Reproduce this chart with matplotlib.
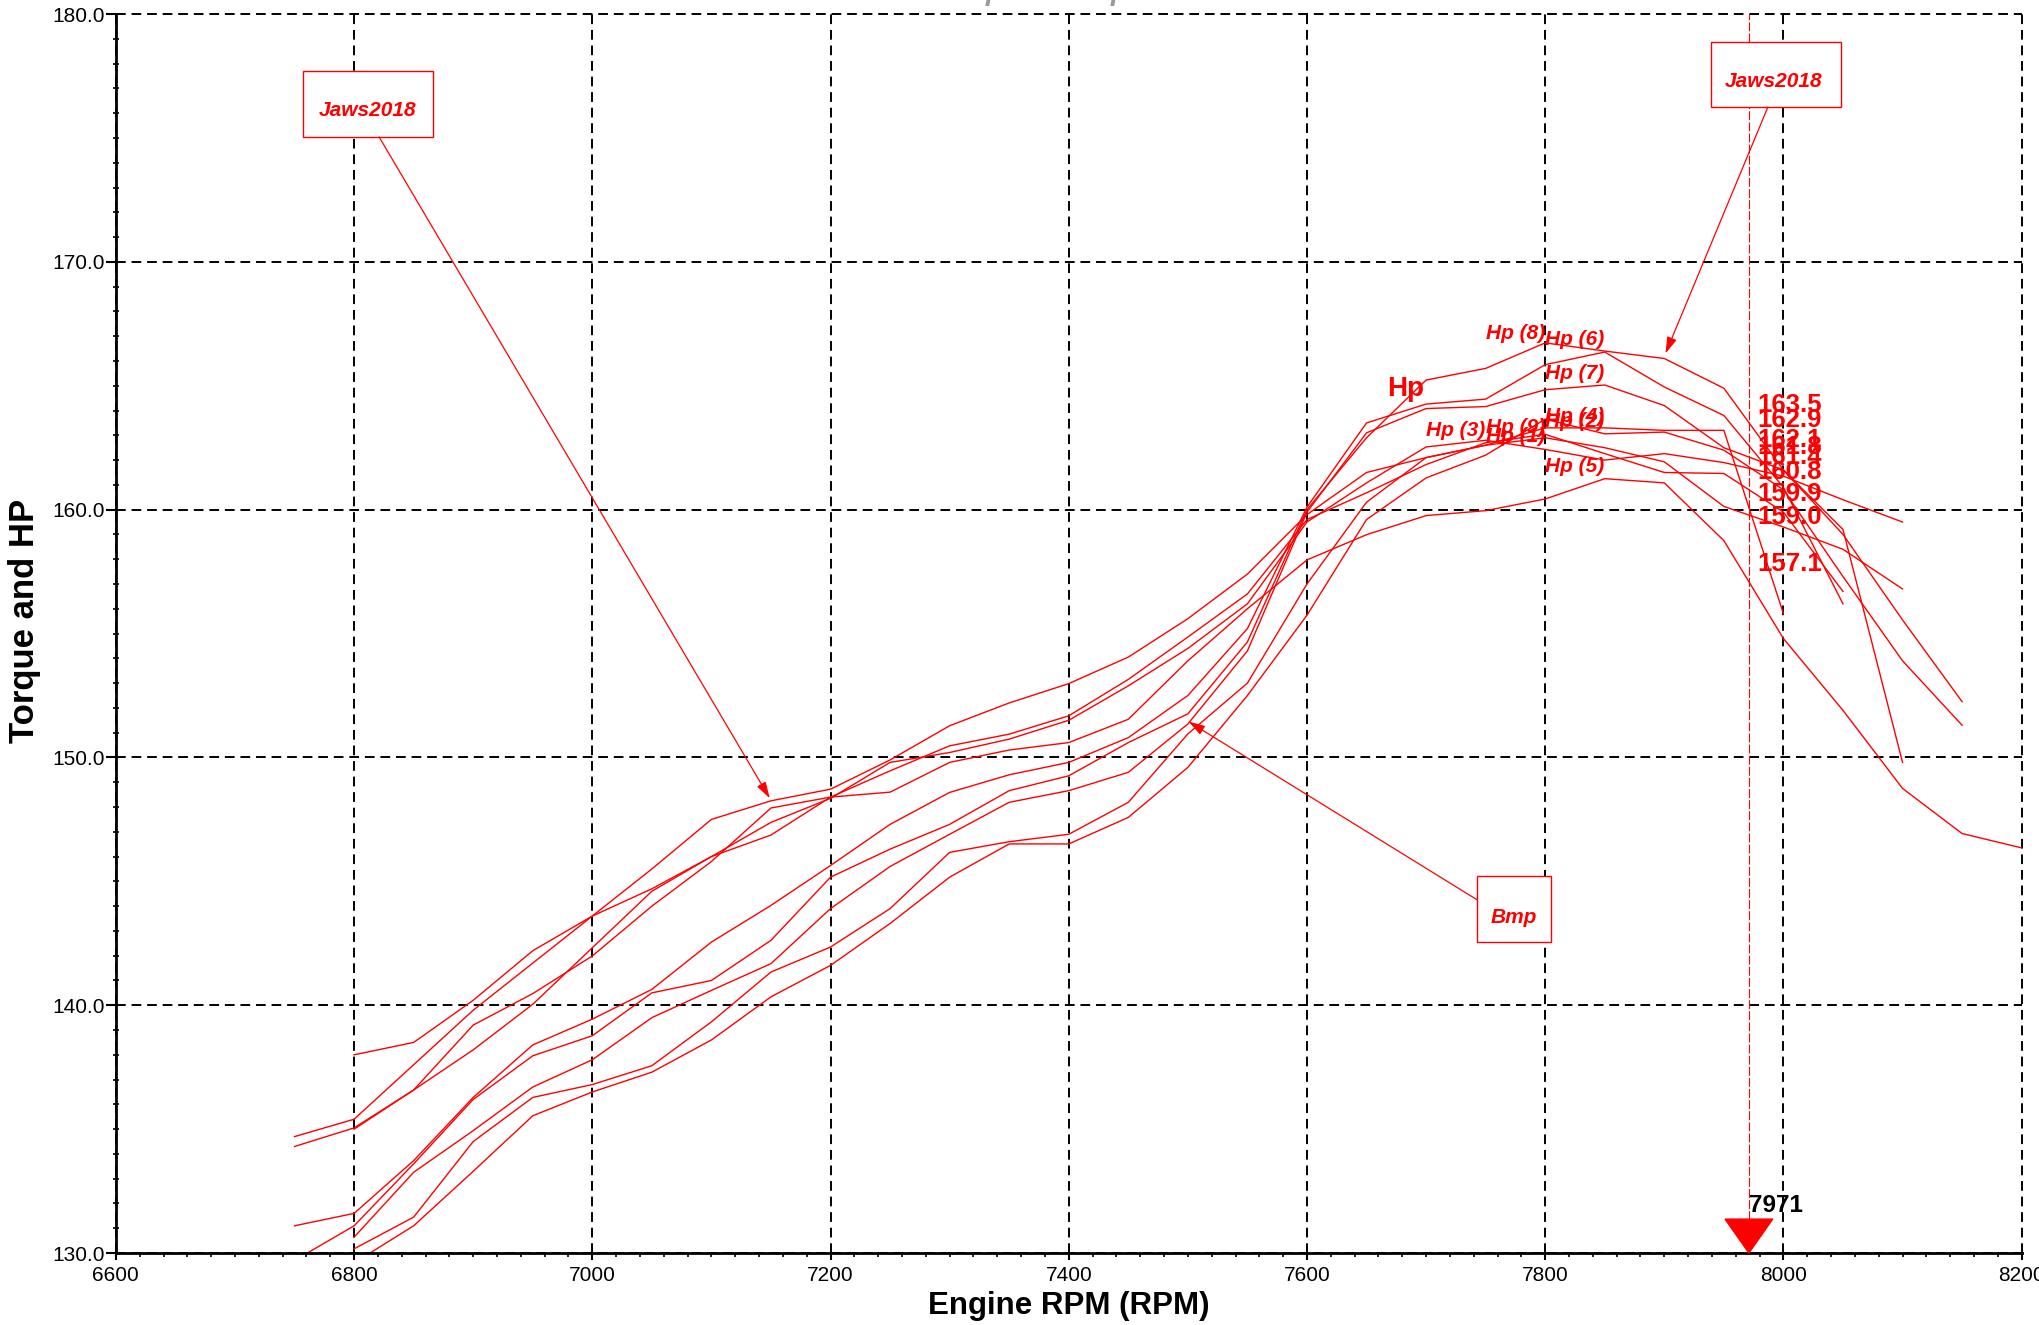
import numpy as np
import matplotlib
matplotlib.use('Agg')
import matplotlib.pyplot as plt
from matplotlib.ticker import MultipleLocator
from matplotlib.patches import Rectangle, Polygon

plt.rcParams['font.family'] = ['Liberation Sans', 'DejaVu Sans']

# Hp runs (every 50 RPM)
rpm_hp1 = np.arange(6750, 8101, 50)
hp1 = [134.7, 135.4, 137.6, 139.8, 141.7, 143.6, 145.5, 147.5, 148.25, 148.72,
       149.9, 151.28, 152.2, 152.98, 154.05, 155.6, 157.4, 159.8, 161.5, 162.1,
       162.6, 162.9, 162.5, 161.93, 160.13, 159.3, 158.4, 156.8]

rpm_hp2 = np.arange(6800, 8001, 50)
hp2 = [130.17, 131.45, 134.5, 136.28, 136.8, 137.56, 139.33, 141.34, 142.35,
       143.9, 146.17, 146.6, 146.9, 148.19, 150.95, 153.0, 157.0, 160.3, 162.1,
       162.6, 163.3, 163.3, 163.2, 163.2, 155.8]

rpm_hp3 = np.arange(6800, 8101, 50)
hp3 = [135.0, 136.58, 138.2, 140.04, 142.32, 144.6, 146.0, 147.38, 148.35,
       149.8, 150.2, 150.74, 151.5, 152.89, 154.4, 156.2, 159.5, 161.08, 162.53,
       162.8, 162.43, 162.0, 162.26, 161.9, 161.35, 160.4, 159.5]

rpm_hp4 = np.arange(6800, 8151, 50)
hp4 = [129.6, 131.1, 133.3, 135.54, 136.5, 137.3, 138.6, 140.34, 141.61,
       143.3, 145.17, 146.51, 146.51, 147.58, 149.6, 152.5, 155.74, 159.6, 161.28,
       162.2, 163.65, 163.06, 163.13, 162.4, 160.8, 157.3, 153.9, 151.3]

rpm_hp5 = np.arange(6800, 8201, 50)
hp5 = [138.0, 138.5, 140.2, 142.2, 143.6, 144.7, 146.0, 146.87, 148.4,
       148.6, 149.8, 150.3, 150.6, 151.54, 153.9, 156.0, 157.97, 158.99, 159.76,
       159.96, 160.43, 161.25, 161.08, 158.75, 154.8, 151.9, 148.75, 146.93, 146.35]

rpm_hp6 = np.arange(6750, 8051, 50)
hp6 = [131.1, 131.6, 133.73, 136.28, 138.4, 139.44, 140.64, 142.55, 144.03, 145.64,
       147.3, 148.59, 149.3, 149.8, 150.8, 152.5, 155.2, 160.1, 163.5, 164.26,
       164.46, 165.85, 166.36, 164.95, 163.8, 160.9, 156.2]

rpm_hp7 = np.arange(6800, 8151, 50)
hp7 = [130.64, 133.26, 134.94, 136.7, 137.8, 139.5, 140.6, 141.68, 143.9,
       145.6, 146.9, 148.19, 148.66, 149.4, 151.35, 154.3, 159.9, 163.1, 164.08,
       164.16, 164.84, 165.03, 164.2, 162.5, 161.6, 159.0, 155.55, 152.25]

rpm_hp8 = np.arange(6750, 8101, 50)
hp8 = [129.7, 131.1, 133.6, 136.2, 137.96, 138.77, 140.5, 141.0, 142.62, 145.17,
       146.3, 147.3, 148.66, 149.26, 150.6, 151.76, 154.66, 160.0, 162.9, 165.23,
       165.7, 166.73, 166.4, 166.1, 164.9, 161.6, 159.2, 149.8]

rpm_hp9 = np.arange(6750, 8051, 50)
hp9 = [134.3, 135.05, 136.58, 139.2, 140.47, 141.99, 144.0, 145.8, 147.96, 148.4,
       149.46, 150.47, 150.94, 151.68, 153.15, 154.86, 156.6, 159.6, 160.68, 161.82,
       162.7, 163.04, 162.26, 161.5, 161.46, 159.9, 156.7]

runs = [(rpm_hp1, hp1), (rpm_hp2, hp2), (rpm_hp3, hp3), (rpm_hp4, hp4),
        (rpm_hp5, hp5), (rpm_hp6, hp6), (rpm_hp7, hp7), (rpm_hp8, hp8),
        (rpm_hp9, hp9)]

# run labels (placed near the peaks)
run_labels = ['Hp (8)', 'Hp (6)', 'Hp (7)', 'Hp (4)', 'Hp (2)',
              'Hp (3)', 'Hp (9)', 'Hp (1)', 'Hp (5)']
label_x = [7775, 7825, 7825, 7825, 7825, 7725, 7775, 7775, 7825]
label_y = [167.1, 166.85, 165.5, 163.75, 163.55, 163.2, 163.33, 162.95, 161.73]

# cursor readout
cursor_rpm = 7971
cursor_vals = [163.5, 162.9, 162.1, 161.8, 161.4, 160.8, 159.9, 159.0, 157.1]

xticks = np.arange(6600, 8201, 200)
yticks = np.arange(130, 181, 10)

fig = plt.figure(figsize=(20.4, 13.25), dpi=100)
ax = fig.add_axes([0.0568, 0.0543, 0.9342, 0.9351])

for r, h in runs:
    ax.plot(r, h, color='red', lw=1.0, zorder=3)

ax.set_xlim(6600, 8200)
ax.set_ylim(130, 180)
ax.set_xticks(xticks)
ax.set_xticklabels([str(t) for t in xticks])
ax.set_yticks(yticks)
ax.set_yticklabels(['%.1f' % t for t in yticks])
ax.xaxis.set_minor_locator(MultipleLocator(20))
ax.yaxis.set_minor_locator(MultipleLocator(1))

ax.tick_params(axis='both', which='major', labelsize=15, width=1.5, colors='black')
ax.tick_params(axis='x', which='major', direction='out', length=5, pad=4)
ax.tick_params(axis='x', which='minor', direction='out', length=3, width=1.2)
ax.tick_params(axis='y', which='major', direction='out', length=7, pad=1)
ax.tick_params(axis='y', which='minor', direction='inout', length=4, width=1.2)

ax.grid(True, which='major', color='black', linestyle=(0, (5, 3)), linewidth=1.4)
for gl in ax.get_xgridlines() + ax.get_ygridlines():
    gl.set_clip_on(False)

ax.spines['top'].set_visible(False)
ax.spines['right'].set_visible(False)
ax.spines['left'].set_linewidth(2)
ax.spines['bottom'].set_linewidth(2)
ax.spines['left'].set_zorder(4)
ax.spines['bottom'].set_zorder(4)

ax.set_xlabel('Engine RPM (RPM)', fontsize=22.5, fontweight='bold', va='center')
ax.xaxis.set_label_coords(0.5, -0.043)
ax.set_ylabel('Torque and HP', fontsize=25, fontweight='bold', va='center')
ax.yaxis.set_label_coords(-0.048, 0.51)

# run labels
for t, x, y in zip(run_labels, label_x, label_y):
    ax.text(x, y, t, color='red', fontsize=15, fontstyle='italic',
            fontweight='bold', ha='center', va='center', zorder=5)
ax.text(7683, 164.86, 'Hp', color='red', fontsize=20, fontweight='bold',
        ha='center', va='center', zorder=5)

# cursor
ax.axvline(cursor_rpm, color='red', lw=0.8, ls=(0, (8, 2)), zorder=2)
tri = Polygon([(cursor_rpm - 20, 131.37), (cursor_rpm + 20, 131.37), (cursor_rpm, 130.0)],
              closed=True, color='red', clip_on=False, zorder=6)
ax.add_patch(tri)
ax.text(cursor_rpm, 131.9, str(cursor_rpm), fontsize=17.5, fontweight='bold',
        color='black', ha='left', va='center', zorder=6)
for v in cursor_vals:
    ax.text(cursor_rpm + 7, v + 0.72, '%.1f' % v, color='red', fontsize=18.5,
            fontweight='bold', ha='left', va='center', zorder=5)

# note boxes with arrows
def note(x0, x1, y0, y1, tx, ty, text, start, end):
    ax.add_patch(Rectangle((x0, y0), x1 - x0, y1 - y0, facecolor='white',
                           edgecolor='red', lw=1.0, zorder=5))
    ax.text(tx, ty, text, color='red', fontsize=15, fontstyle='italic',
            fontweight='bold', ha='center', va='center', zorder=6)
    ax.annotate('', xy=end, xytext=start,
                arrowprops=dict(arrowstyle='-|>,head_length=0.5,head_width=0.15',
                                color='red', lw=0.9, mutation_scale=20,
                                shrinkA=0, shrinkB=0), zorder=5)

note(6757, 6866, 175.04, 177.70, 6811, 176.09, 'Jaws2018', (6821, 175.04), (7149, 148.35))
note(7939, 8048, 176.25, 178.87, 7992, 177.26, 'Jaws2018', (7987, 176.25), (7901, 166.3))
note(7743, 7805, 142.54, 145.2, 7774, 143.55, 'Bmp', (7743, 144.25), (7500.5, 151.45))

# title sits mostly above the canvas, like the original
fig.text(0.505, 1.0, 'Torque and Hp', color='#999999', fontsize=20,
         fontweight='bold', fontstyle='italic', ha='center', va='baseline')

fig.savefig('out.png', dpi=100)
